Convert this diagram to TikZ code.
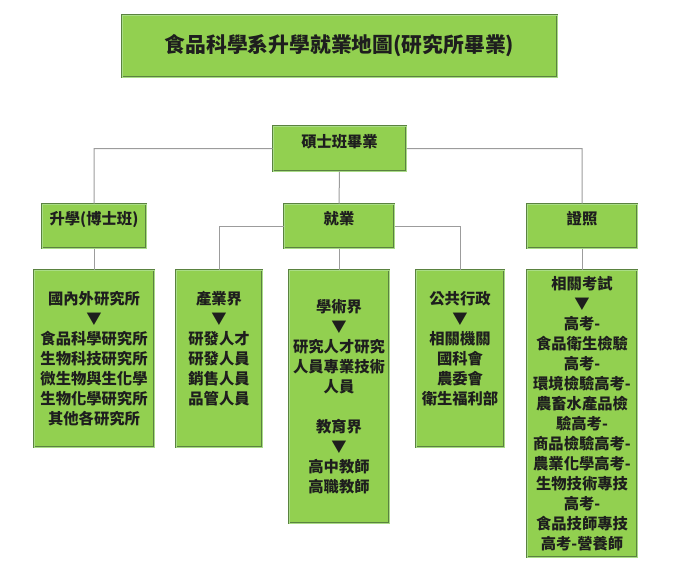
\documentclass[tikz,border=0pt]{standalone}
\usepackage{fontspec}
\setmainfont{Noto Sans CJK TC}
\usepackage{tikz}
\usetikzlibrary{positioning}
\definecolor{LeafFill}{HTML}{92D050}
\definecolor{LeafEdge}{HTML}{5A8240}
\definecolor{LeafRim} {HTML}{A9DC86}
\definecolor{WireGray}{HTML}{9C9C9C}
\definecolor{InkDark} {HTML}{1E1E1E}

\begin{document}
\begin{tikzpicture}[x=1pt,y=-1pt,
          every node/.style={rectangle,draw=LeafEdge,fill=LeafFill,
                             line width=1pt,double=LeafRim,double distance=0.7pt,
                             text=InkDark,align=center,inner sep=2pt,
                             font=\fontsize{15.3}{20}\selectfont\bfseries},
          wire/.style={draw=WireGray,line width=1pt}]
        \useasboundingbox (0,0) rectangle (700,567);
        \node[minimum width=435,minimum height=62,font=\fontsize{20.8}{24}\selectfont\bfseries]
            (title) at (339.5,46) {食品科學系升學就業地圖(研究所畢業)};
        \node[minimum width=133,minimum height=45,text depth=15pt] (grad) at (339.5,148.5) {碩士班畢業};
        % second row
        \node[minimum width=104,minimum height=44,text depth=16pt] (study) at ( 94,226) {升學(博士班)};
        \node[minimum width=110,minimum height=44,text depth=16pt] (work)  at (339,226) {就業};
        \node[minimum width=110,minimum height=44,text depth=16pt] (cert)  at (582,226) {證照};
        % third row
        \node[minimum width=120,minimum height=177] (abroad) at ( 94,358.5)
            {國內外研究所\\▼\\食品科學研究所\\生物科技研究所\\微生物與生化學\\生物化學研究所\\其他各研究所};
        \node[minimum width=86,minimum height=177,text depth=22pt] (industry) at (219,358.5)
            {產業界\\▼\\研發人才\\研發人員\\銷售人員\\品管人員};
        \node[minimum width=100,minimum height=253] (academia) at (339,396.5)
            {學術界\\▼\\研究人才研究\\人員專業技術\\人員\\[20pt]教育界\\▼\\高中教師\\高職教師};
        \node[minimum width=88,minimum height=177,text depth=22pt] (public) at (460,358.5)
            {公共行政\\▼\\相關機關\\國科會\\農委會\\衛生福利部};
        \node[minimum width=110,minimum height=287] (exam) at (582,413.5)
            {相關考試\\▼\\高考-\\食品衛生檢驗\\高考-\\環境檢驗高考-\\農畜水產品檢\\驗高考-\\商品檢驗高考-\\農業化學高考-\\生物技術專技\\高考-\\食品技師專技\\高考-營養師};
        \draw[wire] (grad.west) -| (study.north) (grad.east) -| (cert.north) (grad.south) -- (work.north);
        \draw[wire] (study.south) -- (abroad.north);
        \draw[wire] (work.west) -| (industry.north) (work.east) -| (public.north) (work.south) -- (academia.north);
        \draw[wire] (cert.south) -- (exam.north);
      \end{tikzpicture}
\end{document}
